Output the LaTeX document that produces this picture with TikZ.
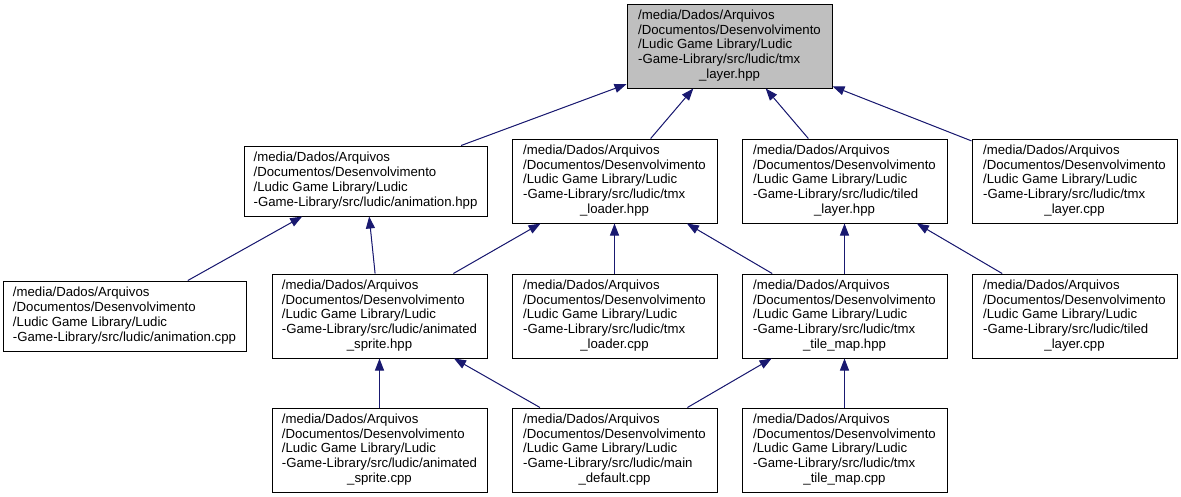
\documentclass[tikz,border=0pt]{standalone}
\usepackage{fontspec}
\setmainfont{Liberation Sans}
\usetikzlibrary{arrows.meta, positioning, calc}
\definecolor{dgnavy}{RGB}{25, 25, 112}
\definecolor{dggray}{RGB}{191, 191, 191}

\newcommand{\filefont}{\fontsize{13.2pt}{14.8pt}\selectfont}
\newcommand{\ludicdir}{/media/Dados/Arquivos\\/Documentos/Desenvolvimento\\/Ludic Game Library/Ludic}
\newcommand{\fpath}[2]{\begin{tabular}{@{}l@{}}\ludicdir\\#1\\\multicolumn{1}{@{}c@{}}{#2}\end{tabular}}
\newcommand{\fpathshort}[1]{\begin{tabular}{@{}l@{}}\ludicdir\\#1\end{tabular}}

\begin{document}
\begin{tikzpicture}[
    x=1pt, y=1pt,
    file/.style={draw=black, fill=white, line width=1pt, minimum width=205pt, minimum height=84pt, inner sep=0pt, font=\filefont},
    mainfile/.style={file, fill=dggray},
    widefile/.style={file, minimum width=243pt, minimum height=70pt},
    midfile/.style={file, minimum width=215pt},
    dep/.style={{Triangle[length=12pt, width=9pt]}-, draw=dgnavy, fill=dgnavy, line width=1pt}
]
\useasboundingbox (0,0) rectangle (1181,-496);

% Segunda fila: cabeceras que incluyen tmx_layer.hpp
\node[file] (tmxloaderhpp) at (614.5,-181) {\fpath{-Game-Library/src/ludic/tmx}{\_loader.hpp}};
\node[file, right=24pt of tmxloaderhpp] (tiledlayerhpp) {\fpath{-Game-Library/src/ludic/tiled}{\_layer.hpp}};
\node[file, right=24pt of tiledlayerhpp] (tmxlayercpp) {\fpath{-Game-Library/src/ludic/tmx}{\_layer.cpp}};
\node[widefile, left=24pt of tmxloaderhpp] (animationhpp) {\fpathshort{-Game-Library/src/ludic/animation.hpp}};

% Nodo principal (gris)
\coordinate (mid) at ($(tmxloaderhpp.north)!0.5!(tiledlayerhpp.north)$);
\node[mainfile, above=50pt of mid] (tmxlayerhpp) {\fpath{-Game-Library/src/ludic/tmx}{\_layer.hpp}};

% Tercera fila
\node[file, below=50pt of tmxloaderhpp] (tmxloadercpp) {\fpath{-Game-Library/src/ludic/tmx}{\_loader.cpp}};
\node[file, below=50pt of tiledlayerhpp] (tmxtilemaphpp) {\fpath{-Game-Library/src/ludic/tmx}{\_tile\_map.hpp}};
\node[file, below=50pt of tmxlayercpp] (tiledlayercpp) {\fpath{-Game-Library/src/ludic/tiled}{\_layer.cpp}};
\node[midfile, left=24pt of tmxloadercpp] (animatedspritehpp) {\fpath{-Game-Library/src/ludic/animated}{\_sprite.hpp}};
\node[widefile, left=25pt of animatedspritehpp] (animationcpp) {\fpathshort{-Game-Library/src/ludic/animation.cpp}};

% Cuarta fila
\node[midfile, below=49pt of animatedspritehpp] (animatedspritecpp) {\fpath{-Game-Library/src/ludic/animated}{\_sprite.cpp}};
\node[file, below=49pt of tmxloadercpp] (maindefaultcpp) {\fpath{-Game-Library/src/ludic/main}{\_default.cpp}};
\node[file, below=49pt of tmxtilemaphpp] (tmxtilemapcpp) {\fpath{-Game-Library/src/ludic/tmx}{\_tile\_map.cpp}};

% Dependencias hacia tmx_layer.hpp
\draw[dep] (tmxlayerhpp) -- (animationhpp);
\draw[dep] (tmxlayerhpp) -- (tmxloaderhpp);
\draw[dep] (tmxlayerhpp) -- (tiledlayerhpp);
\draw[dep] (tmxlayerhpp) -- (tmxlayercpp);

% Dependencias de la segunda fila
\draw[dep] (animationhpp) -- (animationcpp);
\draw[dep] (animationhpp) -- (animatedspritehpp);
\draw[dep] (tmxloaderhpp) -- (animatedspritehpp);
\draw[dep] (tmxloaderhpp) -- (tmxloadercpp);
\draw[dep] (tmxloaderhpp) -- (tmxtilemaphpp);
\draw[dep] (tiledlayerhpp) -- (tmxtilemaphpp);
\draw[dep] (tiledlayerhpp) -- (tiledlayercpp);

% Dependencias de la tercera fila
\draw[dep] (animatedspritehpp) -- (animatedspritecpp);
\draw[dep] (animatedspritehpp) -- (maindefaultcpp);
\draw[dep] (tmxtilemaphpp) -- (maindefaultcpp);
\draw[dep] (tmxtilemaphpp) -- (tmxtilemapcpp);

\end{tikzpicture}
\end{document}
